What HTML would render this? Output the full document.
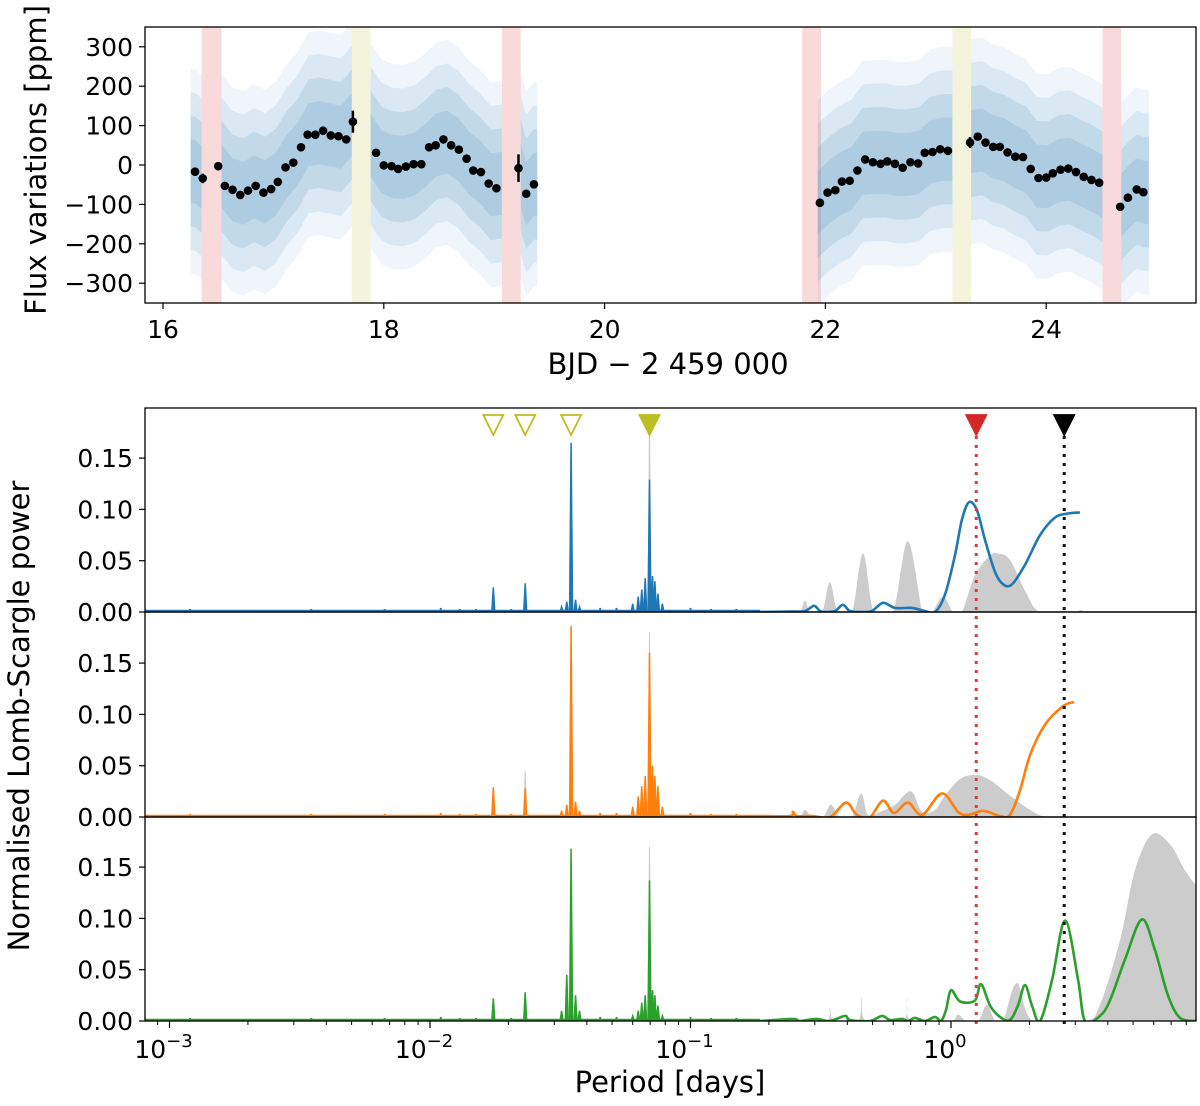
<!DOCTYPE html>
<html><head><meta charset="utf-8">
<style>
html,body{margin:0;padding:0;background:#fff;}
svg{display:block;font-family:"DejaVu Sans","Liberation Sans",sans-serif;}
</style></head>
<body>
<svg id="fig" width="1200" height="1106" viewBox="0 0 1200 1106" xmlns="http://www.w3.org/2000/svg">
<g id="topPanel"></g>
<g id="botPanel"></g>
<text x="0" y="0" transform="translate(46,160) rotate(-90)" text-anchor="middle" font-size="29">Flux variations [ppm]</text>
<text x="668" y="374" text-anchor="middle" font-size="29">BJD − 2 459 000</text>
<text x="0" y="0" transform="translate(29,716) rotate(-90)" text-anchor="middle" font-size="29">Normalised Lomb-Scargle power</text>
<text x="670" y="1092" text-anchor="middle" font-size="29">Period [days]</text>
</svg>
<script>
// ---------- top panel data ----------
const binTimes1 = [16.29,16.36,16.50,16.56,16.63,16.70,16.77,16.84,16.91,16.98,17.04,17.11,17.18,17.25,17.31,17.38,17.45,17.52,17.59,17.66,17.72,17.93,18.00,18.07,18.13,18.20,18.27,18.34,18.41,18.47,18.54,18.61,18.68,18.75,18.81,18.88,18.95,19.02,19.22,19.29,19.36];
const binFlux1 = [-17,-34,-3,-53,-63,-76,-65,-53,-70,-61,-43,-6,6,45,77,77,87,75,73,65,110,31,-1,-3,-10,-4,2,2,45,50,65,50,39,16,-14,-18,-47,-59,-8,-73,-49];
const binErr1 = [8,12,6,6,6,6,6,6,6,6,6,6,6,6,8,10,6,6,6,6,28,6,6,6,6,6,6,10,6,6,6,6,6,6,6,6,6,6,35,8,8];
const binTimes2 = [21.95,22.02,22.09,22.15,22.22,22.29,22.36,22.43,22.50,22.56,22.63,22.70,22.77,22.84,22.90,22.97,23.04,23.11,23.31,23.38,23.45,23.52,23.58,23.65,23.72,23.79,23.86,23.93,24.00,24.06,24.13,24.20,24.27,24.34,24.41,24.48,24.67,24.74,24.82,24.88];
const binFlux2 = [-96,-70,-64,-42,-40,-14,14,7,3,9,3,-7,7,4,31,33,40,36,57,72,57,46,46,32,21,20,-10,-33,-32,-21,-12,-9,-18,-30,-38,-45,-106,-83,-62,-69];
const binErr2 = [10,6,6,6,6,6,10,6,6,6,6,6,6,6,6,6,6,6,14,6,6,6,6,6,6,6,6,6,6,6,6,10,6,6,6,6,8,6,6,6];
const pinkBands = [[16.35,16.53],[19.07,19.24],[21.79,21.96],[24.51,24.68]];
const yellowBands = [[17.71,17.88],[23.15,23.32]];
const dataSegments = [[16.25,16.35],[16.53,17.71],[17.88,19.07],[19.24,19.39],[21.93,23.15],[23.32,24.51],[24.68,24.93]];
const topXTicks = [16,18,20,22,24];
const topYTicks = [300,200,100,0,-100,-200,-300];
const topYLabels = ["300","200","100","0","−100","−200","−300"];

// ---------- periodogram data ----------
const harmonicPeriods = [0.0175,0.0232,0.0348,0.0696];
const blueSpikes = [0.024,0.028,0.165,0.129];
const orangeSpikes = [0.029,0.028,0.186,0.160];
const greenSpikes = [0.022,0.028,0.168,0.137];
const graySpikes = [[0.0232,0.045,2],[0.0696,0.192,1],[0.0696,0.18,2],[0.0696,0.17,3]];
const clusterPeriods = [0.060,0.063,0.065,0.067,0.0715,0.073,0.075,0.078,0.032,0.0335,0.0362,0.0375];
const blueCluster = [0.008,0.015,0.022,0.033,0.035,0.030,0.018,0.008,0.005,0.010,0.012,0.005];
const orangeCluster = [0.010,0.020,0.030,0.040,0.050,0.040,0.030,0.010,0.006,0.012,0.015,0.006];
const greenCluster = [0.005,0.010,0.018,0.025,0.030,0.025,0.015,0.005,0.010,0.045,0.025,0.010];
const smallPeakPeriods = [0.0012,0.0021,0.0035,0.0048,0.0067,0.0095,0.011,0.013,0.015,0.0205,0.027,0.045,0.052,0.1,0.12,0.15];
const smallPeakHeights = [0.003,0.002,0.003,0.002,0.003,0.002,0.004,0.003,0.003,0.003,0.002,0.004,0.004,0.004,0.003,0.003];

const blueLogP = [-0.733,-0.618,-0.560,-0.526,-0.503,-0.480,-0.445,-0.415,-0.388,-0.342,-0.303,-0.261,-0.215,-0.150,-0.100,-0.061,-0.023,0.015,0.042,0.069,0.100,0.131,0.169,0.200,0.234,0.284,0.342,0.399,0.449,0.495];
const bluePower = [0,0.0005,0.001,0.006,0.001,0,0.001,0.007,0.001,0,0.001,0.009,0.004,0.004,0.001,0,0.017,0.055,0.090,0.107,0.099,0.070,0.039,0.027,0.027,0.046,0.075,0.092,0.096,0.097];
const blueGrayLogP = [-0.618,-0.580,-0.560,-0.541,-0.495,-0.465,-0.434,-0.380,-0.338,-0.296,-0.223,-0.166,-0.109,-0.073,-0.031,0.008,0.042,0.092,0.150,0.180,0.226,0.284,0.342,0.476,0.495,0.514];
const blueGrayPower = [0,0,0.011,0,0,0.029,0,0,0.057,0,0,0.069,0,0,0.015,0,0,0.036,0.055,0.057,0.051,0.021,0,0,0.002,0];

const orangeLogP = [-0.733,-0.618,-0.607,-0.591,-0.534,-0.464,-0.403,-0.361,-0.311,-0.261,-0.219,-0.165,-0.111,-0.035,0.027,0.065,0.123,0.188,0.226,0.265,0.303,0.361,0.430,0.472];
const orangePower = [0.001,0.001,0.005,0.001,0.001,0,0.014,0.002,0,0.016,0.004,0.014,0.002,0.023,0.005,0.002,0.006,0.001,0.002,0.026,0.060,0.090,0.108,0.112];
const orangeGrayLogP = [-0.618,-0.580,-0.560,-0.534,-0.491,-0.461,-0.426,-0.380,-0.345,-0.319,-0.273,-0.215,-0.154,-0.111,-0.061,-0.023,0.035,0.092,0.150,0.226,0.303,0.369,0.495];
const orangeGrayPower = [0,0,0.007,0,0,0.012,0,0,0.023,0.002,0.005,0.012,0.025,0.005,0.007,0.021,0.037,0.041,0.036,0.021,0.007,0,0];

const greenLogP = [-0.733,-0.607,-0.580,-0.518,-0.465,-0.407,-0.388,-0.311,-0.265,-0.234,-0.188,-0.165,-0.138,-0.100,-0.061,-0.038,-0.019,0,0.035,0.092,0.115,0.150,0.188,0.226,0.257,0.284,0.311,0.342,0.388,0.438,0.488,0.514,0.572,0.610,0.668,0.733,0.783,0.833,0.879,0.944];
const greenPower = [0,0.002,0,0.002,0,0.005,0.001,0,0.005,0.001,0.002,0,0.003,0,0.004,0,0.011,0.030,0.019,0.020,0.036,0.015,0.004,0.001,0.015,0.035,0.015,0,0.040,0.098,0.040,0,0.005,0.020,0.060,0.099,0.069,0.025,0.003,0];
const greenGrayLogP = [-0.618,-0.480,-0.465,-0.449,-0.357,-0.342,-0.326,-0.184,-0.169,-0.154,-0.004,0.027,0.058,0.104,0.138,0.169,0.200,0.253,0.315,0.514,0.572,0.649,0.706,0.772,0.841,0.898,0.944];
const greenGrayPower = [0,0,0.013,0,0,0.023,0,0,0.022,0,0,0.006,0,0,0.016,0,0,0.037,0,0,0.016,0.079,0.147,0.182,0.172,0.147,0.131];

const openMarkerPeriods = [0.0175,0.0232,0.0348];
const filledMarkerPeriod = 0.0696;
const redPeriod = 1.25;
const blackPeriod = 2.72;
const powerTicks = [0,0.05,0.10,0.15];
const powerTickLabels = ["0.00","0.05","0.10","0.15"];
const decadeTicks = [-3,-2,-1,0];

// ---------- helpers ----------
const NS = "http://www.w3.org/2000/svg";
function mk(parent, tag, attrs){ const e=document.createElementNS(NS,tag); for(const k in attrs) e.setAttribute(k,attrs[k]); parent.appendChild(e); return e; }

const TL=145, TR=1196, TT=27, TB=303;
const tx = t => 163 + (t-16)*110.4;
const ty = f => 165 - f*0.394;
const BL=145, BR=1196;
const panelTop = [408,612,817];
const panelBot = [612,817,1021];
const lx = lg => 951 + lg*260.5;
const px = p => lx(Math.log10(p));
const py = (i,v) => panelBot[i] - v*1026;

const topG = document.getElementById('topPanel');
const botG = document.getElementById('botPanel');

const defs = mk(document.getElementById('fig'),'defs',{});
const cpT = mk(defs,'clipPath',{id:'cpT'}); mk(cpT,'rect',{x:TL,y:TT,width:TR-TL,height:TB-TT});
for(let i=0;i<3;i++){ const c=mk(defs,'clipPath',{id:'cpB'+i}); mk(c,'rect',{x:BL,y:panelTop[i],width:BR-BL,height:panelBot[i]-panelTop[i]}); }

const gT = mk(topG,'g',{'clip-path':'url(#cpT)'});
pinkBands.forEach(b=>{ const r=mk(gT,'rect',{x:tx(b[0]),y:TT,width:tx(b[1])-tx(b[0]),height:TB-TT,fill:'#f9dada'});

 });
yellowBands.forEach(b=>{ const r=mk(gT,'rect',{x:tx(b[0]),y:TT,width:tx(b[1])-tx(b[0]),height:TB-TT,fill:'#f4f4dc'});

 });

const allT = binTimes1.concat(binTimes2), allF = binFlux1.concat(binFlux2);
function meanAt(t){ let best=0,bd=1e9; for(let i=0;i<allT.length;i++){const d=Math.abs(allT[i]-t); if(d<bd){bd=d;best=i;}}
  let i=best; let j = (allT[i]<t)? i+1 : i-1; if(j<0||j>=allT.length||Math.abs(allT[j]-t)>0.3) return allF[i];
  const w=(t-allT[i])/(allT[j]-allT[i]); return allF[i]+(allF[j]-allF[i])*w; }
const spreads=[[260,0.07],[200,0.10],[140,0.13],[80,0.12]];
dataSegments.forEach(s=>{
  spreads.forEach(sp=>{
    const n=12; let up=[],dn=[];
    for(let k=0;k<=n;k++){ const t=s[0]+(s[1]-s[0])*k/n; const m=meanAt(t); up.push(tx(t).toFixed(1)+','+ty(m+sp[0]).toFixed(1)); dn.unshift(tx(t).toFixed(1)+','+ty(m-sp[0]).toFixed(1)); }
    const p=mk(gT,'polygon',{points:up.concat(dn).join(' '),fill:'rgba(31,119,180,'+sp[1]+')'});
    
    
  });
});
function drawBins(ts,fs,es){ ts.forEach((t,i)=>{
  const l=mk(gT,'line',{x1:tx(t),x2:tx(t),y1:ty(fs[i]+es[i]),y2:ty(fs[i]-es[i]),stroke:'#000','stroke-width':2.5});
  
  
  const c=mk(gT,'circle',{cx:tx(t),cy:ty(fs[i]),r:4.3,fill:'#000'});
  
  
});}
drawBins(binTimes1,binFlux1,binErr1); drawBins(binTimes2,binFlux2,binErr2);
const fT=mk(topG,'rect',{x:TL,y:TT,width:TR-TL,height:TB-TT,fill:'none',stroke:'#000','stroke-width':1.3});


topXTicks.forEach(t=>{ mk(topG,'line',{x1:tx(t),x2:tx(t),y1:TB,y2:TB+6,stroke:'#000','stroke-width':1.2});
  const tt=mk(topG,'text',{x:tx(t),y:TB+35,'text-anchor':'middle','font-size':25}); tt.textContent=t;
  
   });
topYTicks.forEach((v,i)=>{ mk(topG,'line',{x1:TL-6,x2:TL,y1:ty(v),y2:ty(v),stroke:'#000','stroke-width':1.2});
  const tt=mk(topG,'text',{x:TL-12,y:ty(v)+9,'text-anchor':'end','font-size':25}); tt.textContent=topYLabels[i];
  
   });

function smoothPath(pts){
  let d='M'+pts[0][0].toFixed(1)+','+pts[0][1].toFixed(1);
  for(let i=0;i<pts.length-1;i++){ const p0=pts[Math.max(0,i-1)],p1=pts[i],p2=pts[i+1],p3=pts[Math.min(pts.length-1,i+2)];
    const c1=[p1[0]+(p2[0]-p0[0])/6,p1[1]+(p2[1]-p0[1])/6], c2=[p2[0]-(p3[0]-p1[0])/6,p2[1]-(p3[1]-p1[1])/6];
    d+=' C'+c1[0].toFixed(1)+','+c1[1].toFixed(1)+' '+c2[0].toFixed(1)+','+c2[1].toFixed(1)+' '+p2[0].toFixed(1)+','+p2[1].toFixed(1); }
  return d; }
const colors=['#1f77b4','#ff7f0e','#2ca02c'];
const curveLogP=[blueLogP,orangeLogP,greenLogP], curvePow=[bluePower,orangePower,greenPower];
const grayLogP=[blueGrayLogP,orangeGrayLogP,greenGrayLogP], grayPow=[blueGrayPower,orangeGrayPower,greenGrayPower];
const spikes=[blueSpikes,orangeSpikes,greenSpikes], clusters=[blueCluster,orangeCluster,greenCluster];
const names=['blue','orange','green'];
for(let i=0;i<3;i++){
  const g=mk(botG,'g',{'clip-path':'url(#cpB'+i+')'});
  
  
  const gp=grayLogP[i].map((l,k)=>[lx(l),py(i,grayPow[i][k])]);
  const gd=smoothPath(gp)+' L'+gp[gp.length-1][0]+','+panelBot[i]+' L'+gp[0][0]+','+panelBot[i]+' Z';
  const gpath=mk(g,'path',{d:gd,fill:'#cccccc'});
  
  
  graySpikes.filter(s=>s[2]===i+1).forEach(s=>{ const x=px(s[0]);
    const gs=mk(g,'polygon',{points:(x-1.5)+','+panelBot[i]+' '+x+','+py(i,s[1])+' '+(x+1.5)+','+panelBot[i],fill:'#cccccc',stroke:'#cccccc','stroke-width':1});
    
     });
  const bl=mk(g,'line',{x1:BL,x2:lx(-0.733),y1:py(i,0.0012),y2:py(i,0.0012),stroke:colors[i],'stroke-width':2});
  
  
  smallPeakPeriods.forEach((p,k)=>{ const x=px(p);
    const s=mk(g,'line',{x1:x,x2:x,y1:panelBot[i],y2:py(i,smallPeakHeights[k]),stroke:colors[i],'stroke-width':2});
    
     });
  clusterPeriods.forEach((p,k)=>{ const x=px(p);
    const s=mk(g,'polygon',{points:(x-1.5)+','+panelBot[i]+' '+x+','+py(i,clusters[i][k])+' '+(x+1.5)+','+panelBot[i],fill:colors[i],stroke:colors[i],'stroke-width':1.5});
    
     });
  harmonicPeriods.forEach((p,k)=>{ const x=px(p);
    const s=mk(g,'polygon',{points:(x-1.5)+','+panelBot[i]+' '+x+','+py(i,spikes[i][k])+' '+(x+1.5)+','+panelBot[i],fill:colors[i],stroke:colors[i],'stroke-width':1.5});
    
     });
  const cp=curveLogP[i].map((l,k)=>[lx(l),Math.min(py(i,curvePow[i][k]),panelBot[i])]);
  const c=mk(g,'path',{d:smoothPath(cp),fill:'none',stroke:colors[i],'stroke-width':2.6,'stroke-linejoin':'round'});
  
  
  powerTicks.forEach((v,k)=>{ mk(botG,'line',{x1:BL-6,x2:BL,y1:py(i,v),y2:py(i,v),stroke:'#000','stroke-width':1.2});
    const tt=mk(botG,'text',{x:BL-12,y:py(i,v)+9,'text-anchor':'end','font-size':25}); tt.textContent=powerTickLabels[k];
    
     });
}
[[redPeriod,'#e0393b','red-period-line'],[blackPeriod,'#111','black-period-line']].forEach(v=>{
  const x=px(v[0]);
  const l=mk(botG,'line',{x1:x,x2:x,y1:436,y2:1026,stroke:v[1],'stroke-width':3,'stroke-dasharray':'3,6'});
  
  
});
function tri(x,fill,stroke){ return mk(botG,'polygon',{points:(x-10)+',415 '+(x+10)+',415 '+x+',435',fill:fill,stroke:stroke,'stroke-width':1.8}); }
openMarkerPeriods.forEach(p=>{ const t=tri(px(p),'none','#bcbd22');
  
   });
const fm=tri(px(filledMarkerPeriod),'#bcbd22','#bcbd22');


const rm=tri(px(redPeriod),'#d62728','#d62728');


const km=tri(px(blackPeriod),'#000','#000');


for(let i=0;i<3;i++){ const f=mk(botG,'rect',{x:BL,y:panelTop[i],width:BR-BL,height:panelBot[i]-panelTop[i],fill:'none',stroke:'#000','stroke-width':1.3});
  
   }
decadeTicks.forEach(d=>{ const x=lx(d);
  mk(botG,'line',{x1:x,x2:x,y1:1021,y2:1028,stroke:'#000','stroke-width':1.2});
  const t=mk(botG,'text',{x:x-6,y:1058,'text-anchor':'middle','font-size':25});
  
  
  t.textContent='10';
  const s=mk(t,'tspan',{dy:-11,'font-size':18}); s.textContent=(d<0?'−':'')+Math.abs(d);
  for(let m=2;m<10;m++){ const xm=lx(d+Math.log10(m)); if(xm<BR) mk(botG,'line',{x1:xm,x2:xm,y1:1021,y2:1025,stroke:'#000','stroke-width':1}); }
});
for(let m=8;m<10;m++){ const xm=lx(-4+Math.log10(m)); if(xm>BL) mk(botG,'line',{x1:xm,x2:xm,y1:1021,y2:1025,stroke:'#000','stroke-width':1}); }
</script>
</body></html>
